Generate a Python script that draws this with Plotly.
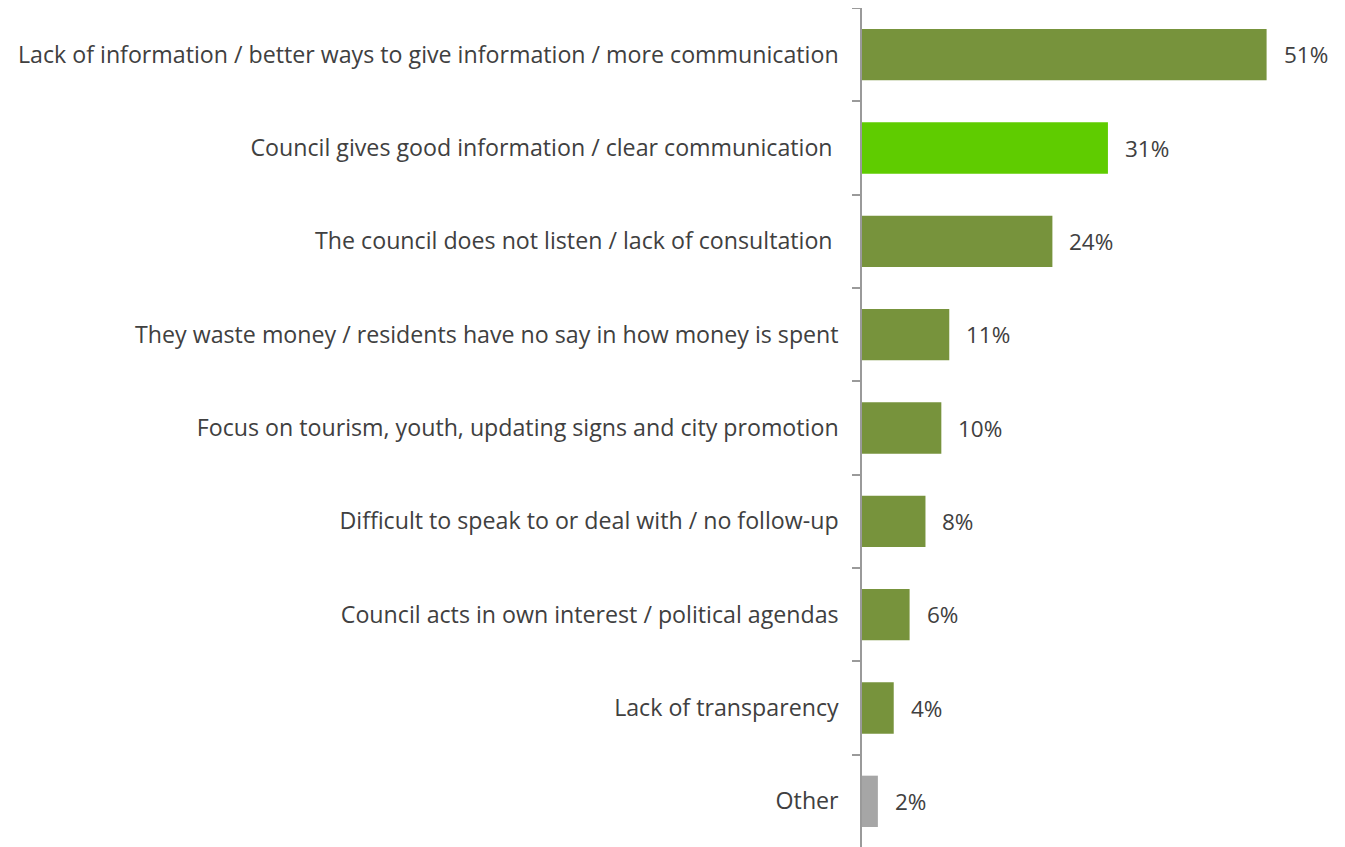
import plotly.graph_objects as go

categories = [
    "Lack of information / better ways to give information / more communication",
    "Council gives good information / clear communication ",
    "The council does not listen / lack of consultation ",
    "They waste money / residents have no say in how money is spent",
    "Focus on tourism, youth, updating signs and city promotion",
    "Difficult to speak to or deal with / no follow-up",
    "Council acts in own interest / political agendas",
    "Lack of transparency",
    "Other",
]
values = [51, 31, 24, 11, 10, 8, 6, 4, 2]
colors = ["#77933C", "#5FCC00", "#77933C", "#77933C", "#77933C",
          "#77933C", "#77933C", "#77933C", "#A6A6A6"]
value_labels = [f"{v}%" for v in values]

FONT = "Open Sans"
TEXT_COLOR = "#404040"

fig = go.Figure(go.Bar(
    x=values, y=categories, orientation="h",
    marker=dict(color=colors, line=dict(width=0)),
    hoverinfo="skip",
))

for c, v, lab in zip(categories, values, value_labels):
    fig.add_annotation(x=v, y=c, text=lab, showarrow=False, xanchor="left",
                       xshift=15, font=dict(family=FONT, size=22.5, color=TEXT_COLOR))

fig.update_layout(
    width=1337, height=840,
    margin=dict(l=854, r=7, t=0, b=0),
    plot_bgcolor="white", paper_bgcolor="white",
    bargap=0.45,
    showlegend=False,
    font=dict(family=FONT, size=23, color=TEXT_COLOR),
    xaxis=dict(range=[0, 60], visible=False, fixedrange=True),
    yaxis=dict(
        type="category", autorange="reversed", automargin=False,
        showline=True, linecolor="#9A9A9A", linewidth=1.5,
        ticks="outside", ticklen=8, tickcolor="#9A9A9A", tickwidth=1.5,
        tickson="boundaries", ticklabelstandoff=17,
        showgrid=False, zeroline=False,
        tickfont=dict(family=FONT, size=23.2, color=TEXT_COLOR),
    ),
)

fig.write_html("out.html")
